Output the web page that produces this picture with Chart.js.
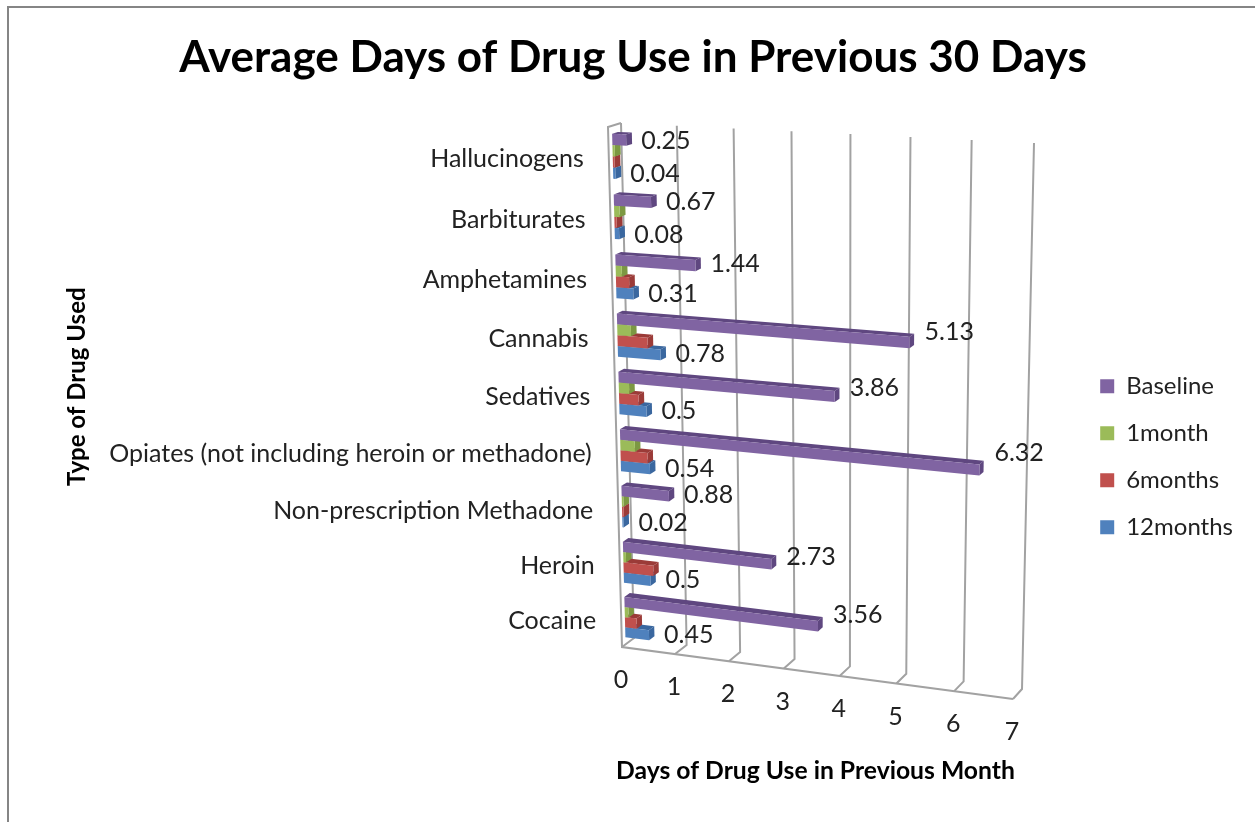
<!DOCTYPE html>
<html>
<head>
<meta charset="utf-8">
<title>Average Days of Drug Use</title>
<script src="https://cdn.jsdelivr.net/npm/chart.js@4/dist/chart.umd.js"></script>
<style>
  html, body { margin: 0; background: #fff; overflow: hidden; }
  #frame { position: absolute; left: 7px; top: 6px; right: 0; bottom: 0;
           border-left: 2px solid #858585; border-top: 2px solid #858585; pointer-events: none; }
  canvas { display: block; }
</style>
</head>
<body>
<canvas id="chart" width="1255" height="822"></canvas>
<div id="frame"></div>
<script>
// Drug types, top row first.
const drugs = ["Hallucinogens", "Barbiturates", "Amphetamines", "Cannabis", "Sedatives",
  "Opiates (not including heroin or methadone)", "Non-prescription Methadone", "Heroin", "Cocaine"];

const baseline  = [0.25, 0.67, 1.44, 5.13, 3.86, 6.32, 0.88, 2.73, 3.56];
const month1    = [0.04, 0.10, 0.11, 0.25, 0.19, 0.27, 0.03, 0.05, 0.07];
const months6   = [0.03, 0.04, 0.24, 0.55, 0.36, 0.50, 0.03, 0.56, 0.22];
const months12  = [0.04, 0.08, 0.31, 0.78, 0.50, 0.54, 0.02, 0.50, 0.45];

const seriesNames = ["Baseline", "1month", "6months", "12months"];
const faceColors  = ["#8064a2", "#9bbb59", "#c0504d", "#4f81bd"];
const sideColors  = ["#5f4780", "#7c9842", "#9b3b38", "#3a679f"];
const labelledSeries = [0, 3]; // only these two carry value labels

const FONT = "Lato, Carlito, sans-serif";
const TEXT = "#222";
const LINE = "#a2a2a2";

// Corners of the tilted box the plot area is projected onto: TL, TR, BR, BL.
const backWall  = [[621, 123], [1034, 143], [1022, 689], [634, 638]];
const frontWall = [[608, 127], [1025, 148], [1013, 699], [622, 647]];
// Depth of a bar inside the box, 0 = back wall, 1 = front edge.
const BAR_BACK = 0.25, BAR_FRONT = 0.7;

// Unit square to quad homography.
function quadMap([[x0, y0], [x1, y1], [x2, y2], [x3, y3]]) {
  const dx1 = x1 - x2, dx2 = x3 - x2, sx = x0 - x1 + x2 - x3;
  const dy1 = y1 - y2, dy2 = y3 - y2, sy = y0 - y1 + y2 - y3;
  const det = dx1 * dy2 - dx2 * dy1;
  const g = (sx * dy2 - dx2 * sy) / det;
  const h = (dx1 * sy - sx * dy1) / det;
  const a = x1 - x0 + g * x1, b = x3 - x0 + h * x3;
  const d = y1 - y0 + g * y1, e = y3 - y0 + h * y3;
  return (u, t) => {
    const w = g * u + h * t + 1;
    return [(a * u + b * t + x0) / w, (d * u + e * t + y0) / w];
  };
}
const backAt = quadMap(backWall);
const frontAt = quadMap(frontWall);

// u along the value axis, t down the category axis, d from back to front.
function project(u, t, d) {
  const b = backAt(u, t), f = frontAt(u, t);
  return [b[0] + (f[0] - b[0]) * d, b[1] + (f[1] - b[1]) * d];
}

function polyline(ctx, pts, fill) {
  ctx.beginPath();
  pts.forEach((p, i) => (i ? ctx.lineTo(p[0], p[1]) : ctx.moveTo(p[0], p[1])));
  if (fill) {
    ctx.closePath();
    ctx.fillStyle = fill;
    ctx.fill();
  } else {
    ctx.stroke();
  }
}

// Chart.js still lays out the scales and bars; this plugin paints them in perspective.
const perspective = {
  id: "perspective",

  beforeDatasetsDraw(chart) {
    const { ctx, chartArea: area, scales: { x } } = chart;
    ctx.save();
    ctx.strokeStyle = LINE;
    ctx.lineWidth = 2;
    for (const tick of x.ticks) {
      const u = (x.getPixelForValue(tick.value) - area.left) / area.width;
      polyline(ctx, [backAt(u, 0), backAt(u, 1), frontAt(u, 1)]);
    }
    polyline(ctx, [backAt(0, 0), frontAt(0, 0), frontAt(0, 1), frontAt(1, 1)]);
    ctx.restore();
  },

  beforeDatasetDraw() {
    return false; // the boxes below replace the flat bars
  },

  afterDatasetsDraw(chart) {
    const { ctx, chartArea: area, scales: { x, y } } = chart;
    const toU = (px) => (px - area.left) / area.width;
    const toT = (px) => (px - area.top) / area.height;
    ctx.save();

    // Lower series first so each bar's front covers the top of the one below.
    for (let s = chart.data.datasets.length - 1; s >= 0; s--) {
      chart.getDatasetMeta(s).data.forEach((bar) => {
        const u0 = toU(bar.base), u1 = toU(bar.x);
        const t0 = toT(bar.y - bar.height / 2), t1 = toT(bar.y + bar.height / 2);
        polyline(ctx, [project(u0, t0, BAR_BACK), project(u1, t0, BAR_BACK),
          project(u1, t0, BAR_FRONT), project(u0, t0, BAR_FRONT)], sideColors[s]);
        polyline(ctx, [project(u1, t0, BAR_FRONT), project(u1, t0, BAR_BACK),
          project(u1, t1, BAR_BACK), project(u1, t1, BAR_FRONT)], sideColors[s]);
        polyline(ctx, [project(u0, t0, BAR_FRONT), project(u1, t0, BAR_FRONT),
          project(u1, t1, BAR_FRONT), project(u0, t1, BAR_FRONT)], faceColors[s]);
      });
    }

    ctx.fillStyle = TEXT;
    ctx.textBaseline = "middle";

    // Value labels sit right of the bar end, level with the bar's middle.
    ctx.font = "25px " + FONT;
    ctx.textAlign = "left";
    for (const s of labelledSeries) {
      const values = chart.data.datasets[s].data;
      chart.getDatasetMeta(s).data.forEach((bar, i) => {
        const t = toT(bar.y);
        const start = project(toU(bar.base), t, BAR_FRONT);
        const end = project(toU(bar.x), t, BAR_FRONT);
        ctx.fillText(String(values[i]), end[0] + 15, (start[1] + end[1]) / 2 + 1);
      });
    }

    // Category labels run down the left edge of the box.
    ctx.textAlign = "right";
    y.ticks.forEach((tick) => {
      const p = frontAt(0, toT(y.getPixelForValue(tick.value)));
      ctx.fillText(tick.label, p[0] - 25, p[1] + 1.5);
    });

    // Value ticks hang under the front edge of the floor.
    ctx.textAlign = "center";
    for (const tick of x.ticks) {
      const p = frontAt(toU(x.getPixelForValue(tick.value)), 1);
      ctx.fillText(tick.label, p[0] - 1, p[1] + 33);
    }
    ctx.restore();
  },
};

Chart.defaults.font.family = FONT;
Chart.defaults.color = TEXT;

new Chart(document.getElementById("chart"), {
  type: "bar",
  data: {
    labels: drugs,
    datasets: [baseline, month1, months6, months12].map((data, i) => ({
      label: seriesNames[i],
      data,
      backgroundColor: faceColors[i],
      borderWidth: 0,
    })),
  },
  plugins: [perspective],
  options: {
    indexAxis: "y",
    responsive: false,
    animation: false,
    categoryPercentage: 0.74,
    barPercentage: 1,
    layout: { padding: { left: 23, right: 12, top: 0, bottom: 0 } },
    plugins: {
      tooltip: { enabled: false },
      title: {
        display: true,
        text: "Average Days of Drug Use in Previous 30 Days",
        color: "#000",
        font: { size: 44, weight: "bold" },
        padding: { top: 31.6, bottom: 126.6 },
      },
      legend: {
        position: "right",
        align: "end",
        fullSize: false,
        labels: { boxWidth: 14, boxHeight: 14, padding: 23, font: { size: 24 }, color: TEXT },
      },
    },
    scales: {
      x: {
        min: 0,
        max: 7,
        ticks: { display: false, stepSize: 1 },
        grid: { display: false },
        border: { display: false },
        title: {
          display: true,
          text: "Days of Drug Use in Previous Month",
          color: "#000",
          font: { size: 24.7, weight: "bold" },
          padding: { top: 186, bottom: 36 },
        },
      },
      y: {
        ticks: { display: false },
        grid: { display: false },
        border: { display: false },
        title: {
          display: true,
          text: "Type of Drug Used",
          color: "#000",
          font: { size: 24, weight: "bold" },
          padding: { top: 40, bottom: 454 },
        },
      },
    },
  },
});
</script>
</body>
</html>
